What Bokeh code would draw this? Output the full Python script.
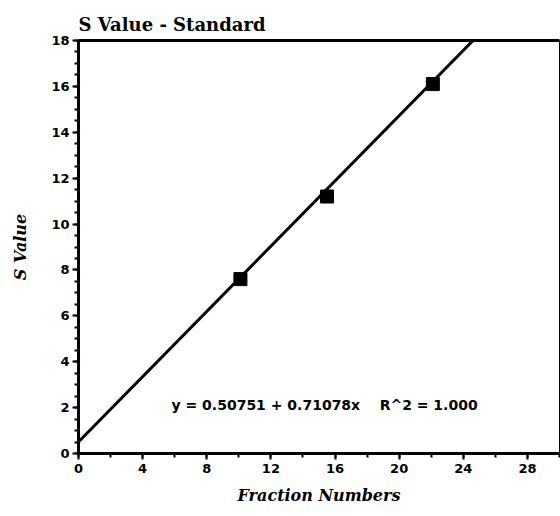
from bokeh.plotting import figure
from bokeh.models import Range1d, LinearAxis, Slope, Label, SingleIntervalTicker, FixedTicker
from bokeh.embed import file_html
from bokeh.resources import INLINE

# data
fraction = [10.1, 15.5, 22.1]
s_value = [7.6, 11.2, 16.1]
intercept = 0.50751
slope = 0.71078
r2 = 1.000

p = figure(width=560, height=516, output_backend="svg", toolbar_location=None,
           x_range=Range1d(0, 30), y_range=Range1d(0, 18),
           min_border_left=78, min_border_right=1, min_border_top=40, min_border_bottom=63,
           title="S Value - Standard")
p.title.text_font = "DejaVu Serif"
p.title.text_font_style = "bold"
p.title.text_font_size = "18px"
p.title.text_color = "black"
p.title.offset = 0
p.title.vertical_align = "middle"
p.xgrid.visible = False
p.ygrid.visible = False
p.outline_line_color = "black"
p.outline_line_width = 1
p.background_fill_color = "white"
p.border_fill_color = "white"

for ax in (p.xaxis[0], p.yaxis[0]):
    ax.axis_line_width = 3
    ax.axis_line_color = "black"
    ax.major_tick_line_width = 2
    ax.minor_tick_line_width = 2
    ax.major_tick_in = 0
    ax.major_tick_out = 6
    ax.minor_tick_in = 0
    ax.minor_tick_out = 4
    ax.major_label_text_font = "DejaVu Sans"
    ax.major_label_text_font_style = "bold"
    ax.major_label_text_font_size = "13px"
    ax.major_label_text_color = "black"
    ax.axis_label_text_font = "DejaVu Serif"
    ax.axis_label_text_font_style = "bold italic"
    ax.axis_label_text_font_size = "16px"
    ax.axis_label_text_color = "black"

p.xaxis[0].ticker = SingleIntervalTicker(interval=4, num_minor_ticks=2)
p.yaxis[0].ticker = SingleIntervalTicker(interval=2, num_minor_ticks=4)
p.xaxis[0].axis_label = "Fraction Numbers"
p.yaxis[0].axis_label = "S Value"
p.xaxis[0].major_label_standoff = 4
p.yaxis[0].major_label_standoff = 3
p.xaxis[0].axis_label_standoff = 10
p.yaxis[0].axis_label_standoff = 18

top = LinearAxis(axis_line_width=3, major_tick_line_color=None, minor_tick_line_color=None,
                 ticker=FixedTicker(ticks=[]))
p.add_layout(top, "above")

p.add_layout(Slope(gradient=slope, y_intercept=intercept, line_color="black", line_width=3))
p.scatter(fraction, s_value, marker="square", size=13, color="black")

nb = "\u00a0"
eq = (f"y{nb}={nb}{intercept:.5f}{nb}+{nb}{slope:.5f}x{nb}{nb}{nb}{nb}"
      f"R^2{nb}={nb}{r2:.3f}")
p.add_layout(Label(x=5.8, y=2.1, text=eq, text_font="DejaVu Sans", text_font_size="14px",
                   text_font_style="bold", text_baseline="middle", text_color="black"))

open("out.html", "w").write(file_html(p, INLINE))
